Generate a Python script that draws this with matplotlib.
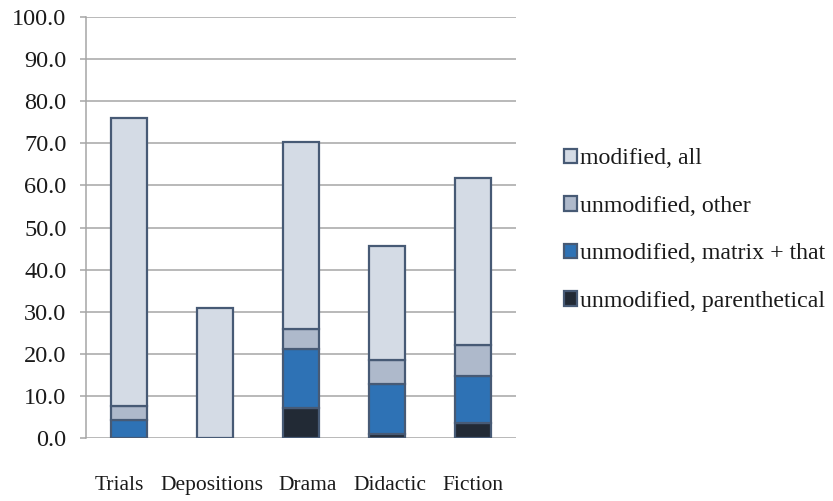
import numpy as np
import matplotlib
matplotlib.use("Agg")
import matplotlib.pyplot as plt
from matplotlib.transforms import ScaledTranslation

plt.rcParams['font.family'] = ['Liberation Serif', 'DejaVu Serif']

genres = ["Trials", "Depositions", "Drama", "Didactic", "Fiction"]

# stacked shares, bottom segment first
parenthetical = [0.0, 0.0, 7.2, 1.0, 3.6]
matrix_that = [4.2, 0.0, 14.0, 11.8, 11.2]
other = [3.5, 0.0, 4.6, 5.7, 7.2]
modified_all = [68.3, 30.8, 44.5, 27.1, 39.8]

series = [
    ("unmodified, parenthetical", parenthetical, "#222a35"),
    ("unmodified, matrix + that", matrix_that, "#2e72b5"),
    ("unmodified, other", other, "#aeb9cb"),
    ("modified, all", modified_all, "#d4dbe5"),
]

fig = plt.figure(figsize=(8.33, 5.01), dpi=100)
ax = fig.add_axes([0.1032, 0.1257, 0.5163, 0.8403])

x = np.arange(len(genres))
bottom = np.zeros(len(genres))
handles = []
for label, vals, color in series:
    b = ax.bar(x, vals, width=0.41, bottom=bottom, color=color,
               edgecolor="#475a75", linewidth=1.6, label=label, zorder=3)
    handles.append(b)
    bottom += np.array(vals)

ax.set_xlim(-0.5, len(genres) - 0.5)
ax.set_ylim(0, 100)
ax.set_yticks(np.arange(0, 101, 10))
ax.set_yticklabels([f"{v:.1f}" for v in np.arange(0, 101, 10)])
ax.set_xticks(x)
ax.set_xticklabels(genres)

ax.grid(axis="y", color="#a6a6a6", linewidth=1.1, zorder=0)
for side in ("top", "right", "bottom"):
    ax.spines[side].set_visible(False)
ax.spines["left"].set_color("#a6a6a6")
ax.spines["left"].set_linewidth(1.1)

ax.tick_params(axis="y", length=4.5, width=1.1, color="#a6a6a6",
               labelsize=17.5, pad=9.5, labelcolor="#1a1a1a")
ax.tick_params(axis="x", length=0, labelsize=15.5, pad=27, labelcolor="#1a1a1a")

# category names sit as one evenly spaced line, not exactly under each bar
nudges = [-9.5, -3, 7, 2.5, 0]
for lbl, dx in zip(ax.get_xticklabels(), nudges):
    lbl.set_transform(lbl.get_transform()
                      + ScaledTranslation(dx / 100, 0, fig.dpi_scale_trans))

# legend lists the top segment first
leg = fig.legend(handles[::-1], [s[0] for s in series][::-1],
                 loc="upper left", bbox_to_anchor=(0.651, 0.747),
                 frameon=False, fontsize=17.2, handlelength=0.56,
                 handleheight=0.56, handletextpad=0.1, labelspacing=1.11)
for t in leg.get_texts():
    t.set_color("#1a1a1a")

fig.savefig("out.png", dpi=100)
